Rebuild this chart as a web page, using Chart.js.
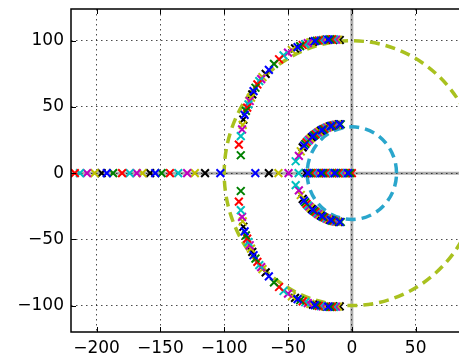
<!DOCTYPE html>
<html>
<head>
<meta charset="utf-8">
<script src="https://cdn.jsdelivr.net/npm/chart.js@4/dist/chart.umd.min.js"></script>
<style>
html,body{margin:0;padding:0;overflow:hidden;background:#fff;width:459px;height:359px;}
#c{position:absolute;left:0;top:0;}
</style>
</head>
<body>
<canvas id="c" width="487" height="359"></canvas>
<script>
// ---- data ----
const colorCycle = ['#0000ff','#008000','#ff0000','#00bfbf','#bf00bf','#bfbf00','#000000'];

// far real pole, left to right (time order)
const farReal = [-217,-213,-207.5,-201.5,-196,-192,-187,-180,-174,-168.5,-164,-158,-154,-149,-142.5,-136,-129,-123,-115,-103];
// second real pole moving left (time order)
const midReal = [-41.7,-49.6,-57.5,-65,-75.6];
// real pole approaching zero
const nearReal = [-36,-34.5,-33,-31.5,-30,-28.5,-27,-25.5,-24,-22.5,-21,-19.5,-18,-16.5,-15,-13.5,-12,-10.5,-9,-7.5,-6,-4.5,-3,-1.5,0];
// outer complex pair, upper half (x, y)
const outerArcX = [-87,-88.5,-87,-86,-85.5,-85,-84,-83,-82,-81,-80,-79,-78,-77,-75.5,-74,-72.5,-71,-70,-67.5,-65,-61,-57,-53.5,-50,-47,-44.5,-42.5,-40.5,-38.5,-36.5,-34.5,-32.5,-30.5,-29,-27.5,-26,-24.5,-23,-21.5,-20,-18.5,-17,-15.5,-14,-12.5,-11,-9.5];
const outerArcY = [13.5,21.5,28,33,36.5,40.5,44,47,49.5,52,54.5,57,59.5,62,64.5,67,69.5,71,72.5,75,78,82.5,86,89,91,93,94.2,95.2,96,96.8,97.5,98.2,98.8,99.3,99.7,100,100.2,100.4,100.6,100.7,100.8,100.9,101,101,101,100.9,100.8,100.6];
// inner complex pair, upper half (x, y)
const innerArcX = [-44,-41.5,-40,-38.5,-37.5,-36.5,-35.5,-34.5,-33.5,-32.5,-31.5,-30.5,-29.5,-28.5,-27.5,-26.5,-25.5,-24.5,-23.5,-22.5,-21.5,-20.5,-19.5,-18.5,-17.5,-16.5,-15.5,-14.5,-13.5,-12.5,-11.5,-10.5,-9.5,-8.7];
const innerArcY = [9,13,16.5,19.5,20.8,22,23.2,24.3,25.2,26.1,27,27.8,28.6,29.3,30,30.7,31.3,31.9,32.5,33,33.5,34,34.4,34.8,35.2,35.5,35.8,36.1,36.3,36.5,36.7,36.8,36.9,36.9];
// reference circles (radius)
const circleRadii = [100, 35];
// ticks
const xTickValues = [-200,-150,-100,-50,0,50];
const yTickValues = [-100,-50,0,50,100];

// ---- build datasets (one per colour) ----
const buckets = colorCycle.map(() => []);
function addBranch(xs, ys, start) {
  xs.forEach((x, i) => {
    const y = ys ? ys[i] : 0;
    const b = buckets[(start + i) % colorCycle.length];
    b.push({x: x, y: y});
    if (y !== 0) b.push({x: x, y: -y});
  });
}
addBranch(farReal, null, 2);
addBranch(midReal, null, 3);
addBranch(nearReal, null, 6);
addBranch(outerArcX, outerArcY, 1);
addBranch(innerArcX, innerArcY, 3);

const datasets = colorCycle.map((col, k) => ({
  data: buckets[k],
  showLine: false,
  pointStyle: 'crossRot',
  pointRadius: 5.5,
  pointHoverRadius: 5.5,
  pointBorderWidth: 2,
  borderColor: col,
  backgroundColor: col
}));

const circleColors = ['#a9c11f', '#2aa6cc'];

const decor = {
  id: 'decor',
  beforeDatasetsDraw(chart) {
    const {ctx, chartArea: a, scales: {x, y}} = chart;
    ctx.save();
    ctx.beginPath();
    ctx.rect(a.left, a.top, a.right - a.left, a.bottom - a.top);
    ctx.clip();
    // gray zero lines
    ctx.strokeStyle = 'rgba(0,0,0,0.32)';
    ctx.lineWidth = 3;
    const x0 = x.getPixelForValue(0), y0 = y.getPixelForValue(0);
    ctx.beginPath();
    ctx.moveTo(x0, a.top); ctx.lineTo(x0, a.bottom);
    ctx.moveTo(a.left, y0); ctx.lineTo(a.right, y0);
    ctx.stroke();
    // dashed circles
    circleRadii.forEach((r, i) => {
      const rx = x.getPixelForValue(r) - x0;
      const ry = y0 - y.getPixelForValue(r);
      ctx.strokeStyle = circleColors[i];
      ctx.lineWidth = 3.5;
      ctx.setLineDash([10, 6]);
      ctx.beginPath();
      ctx.ellipse(x0, y0, rx, ry, 0, 0, 2 * Math.PI, true);
      ctx.stroke();
    });
    ctx.restore();
  },
  afterDatasetsDraw(chart) {
    const {ctx, chartArea: a, scales: {x, y}} = chart;
    ctx.save();
    ctx.strokeStyle = '#000';
    ctx.lineWidth = 1;
    ctx.beginPath();
    xTickValues.forEach(v => {
      const px = Math.round(x.getPixelForValue(v)) + 0.5;
      ctx.moveTo(px, a.bottom); ctx.lineTo(px, a.bottom - 5);
      ctx.moveTo(px, a.top); ctx.lineTo(px, a.top + 5);
    });
    yTickValues.forEach(v => {
      const py = Math.round(y.getPixelForValue(v)) + 0.5;
      ctx.moveTo(a.left, py); ctx.lineTo(a.left + 5, py);
    });
    ctx.stroke();
    ctx.lineWidth = 1.5;
    ctx.strokeRect(a.left, a.top, a.right - a.left, a.bottom - a.top);
    ctx.restore();
  }
};

const fmt = v => (v < 0 ? '\u2212' + Math.abs(v) : String(v));
const gridOpts = {color: 'rgba(0,0,0,0.7)', lineWidth: 1, drawTicks: false};
const borderOpts = {display: false, dash: [1.5, 3.5]};

new Chart(document.getElementById('c'), {
  type: 'scatter',
  data: {datasets},
  options: {
    responsive: false,
    animation: false,
    devicePixelRatio: 1,
    layout: {padding: {top: 9, left: 0, right: 0, bottom: 0}},
    plugins: {legend: {display: false}, tooltip: {enabled: false}, title: {display: false}},
    scales: {
      x: {
        type: 'linear', min: -220, max: 100,
        afterBuildTicks: s => { s.ticks = xTickValues.map(v => ({value: v})); },
        afterFit: s => { s.height = 27; s.paddingLeft = 0; s.paddingRight = 0; },
        ticks: {callback: fmt, color: '#000', padding: 6, maxRotation: 0, autoSkip: false,
                font: {family: 'DejaVu Sans', size: 17}},
        grid: gridOpts,
        border: borderOpts
      },
      y: {
        type: 'linear', min: -120, max: 124,
        afterBuildTicks: s => { s.ticks = yTickValues.map(v => ({value: v})); },
        afterFit: s => { s.width = 71; s.paddingTop = 0; s.paddingBottom = 0; },
        ticks: {callback: fmt, color: '#000', padding: 7, autoSkip: false,
                font: {family: 'DejaVu Sans', size: 17}},
        grid: gridOpts,
        border: borderOpts
      }
    }
  },
  plugins: [decor]
});
</script>
</body>
</html>
